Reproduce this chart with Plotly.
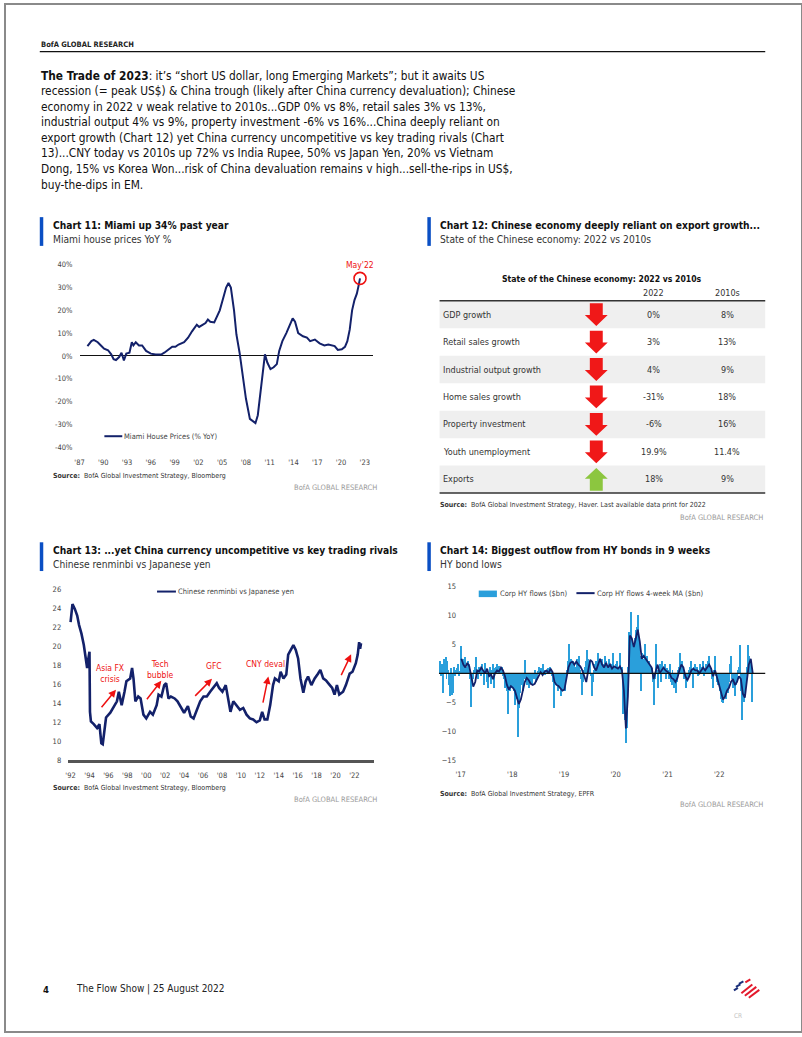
import plotly.graph_objects as go
import pandas as pd

W, H = 802, 1037
FONT = "DejaVu Sans Condensed, Liberation Sans Narrow, Arial Narrow, sans-serif"
NAVY = "#13216a"
BLUEBAR = "#0a4fc4"
RED = "#ee1111"

# ---------------- DATA ----------------
# Chart 11: Miami house prices YoY %
miami_x = [1988.0, 1988.5, 1988.8, 1989.3, 1989.7, 1990.1, 1990.6, 1991.0, 1991.3, 1991.6,
           1992.0, 1992.3, 1992.6, 1992.9, 1993.3, 1993.6, 1993.8, 1994.1, 1994.5, 1994.9,
           1995.4, 1996.0, 1996.6, 1997.3, 1997.7, 1998.2, 1998.7, 1999.1, 1999.5, 2000.2,
           2000.7, 2001.2, 2001.8, 2002.1, 2002.5, 2002.9, 2003.2, 2003.5, 2004.0, 2004.3,
           2004.7, 2005.1, 2005.5, 2005.8, 2006.1, 2006.5, 2006.8, 2007.2, 2007.6, 2008.0,
           2008.5, 2008.9, 2009.2, 2009.5, 2009.8, 2010.1, 2010.4, 2010.7, 2011.1, 2011.5,
           2011.9, 2012.2, 2012.6, 2013.1, 2013.5, 2013.9, 2014.2, 2014.6, 2015.2, 2015.7,
           2016.1, 2016.7, 2017.3, 2017.9, 2018.4, 2018.8, 2019.2, 2019.6, 2020.1, 2020.5,
           2020.8, 2021.1, 2021.4, 2021.7, 2022.0, 2022.2, 2022.4]
miami_y = [4.3, 6.5, 7.0, 6.0, 4.6, 3.2, 2.5, 0.7, -1.4, -1.8,
           -0.5, 1.4, -2.0, 1.0, 1.4, 6.0, 4.6, 6.0, 4.6, 4.6,
           2.2, 1.0, 0.6, 0.6, 1.4, 2.6, 4.0, 4.0, 5.0, 6.0,
           8.0, 10.8, 13.7, 12.7, 13.7, 14.4, 16.0, 15.0, 14.7, 17.3,
           20.0, 25.0, 30.0, 32.0, 30.0, 20.0, 9.4, 1.4, -8.0, -18.7,
           -27.6, -28.8, -29.5, -26.0, -17.3, -7.2, 0.7, -2.9, -5.8, -5.0,
           -3.6, 2.2, 6.5, 10.0, 13.7, 16.5, 15.0, 10.0, 8.6, 8.0,
           6.5, 7.2, 5.5, 4.6, 5.0, 4.6, 4.3, 2.6, 2.9, 4.0,
           6.5, 11.5, 20.0, 24.5, 27.3, 30.5, 34.0]
miami_years = list(range(1987, 2024, 3))
miami_yticks = list(range(-40, 41, 10))

# Chart 12: table
t12_rows = ["GDP growth", "Retail sales growth", "Industrial output growth", "Home sales growth",
            "Property investment", "Youth unemployment", "Exports"]
t12_2022 = ["0%", "3%", "4%", "-31%", "-6%", "19.9%", "18%"]
t12_2010s = ["8%", "13%", "9%", "18%", "16%", "11.4%", "9%"]
t12_dir = ["down", "down", "down", "down", "down", "down", "up"]

# Chart 13: CNY vs JPY
cny_x = [1992.0, 1992.2, 1992.45, 1992.7, 1992.9, 1993.15, 1993.4, 1993.6, 1993.75, 1993.85,
         1994.0, 1994.05, 1994.15, 1994.45, 1994.8, 1995.05, 1995.25, 1995.4, 1995.6, 1995.75,
         1996.2, 1996.5, 1996.9, 1997.1, 1997.4, 1997.7, 1997.9, 1998.3, 1998.5, 1998.65,
         1998.85, 1999.15, 1999.4, 1999.7, 2000.0, 2000.4, 2000.7, 2001.1, 2001.3, 2001.6,
         2001.9, 2002.1, 2002.35, 2002.6, 2003.0, 2003.3, 2003.7, 2004.0, 2004.4, 2004.7,
         2005.0, 2005.35, 2005.7, 2006.05, 2006.4, 2006.75, 2007.1, 2007.45, 2007.7, 2008.05,
         2008.4, 2008.65, 2008.9, 2009.2, 2009.55, 2009.9, 2010.25, 2010.6, 2010.95, 2011.3,
         2011.65, 2012.0, 2012.25, 2012.5, 2012.8, 2013.1, 2013.4, 2013.6, 2014.0, 2014.2,
         2014.5, 2014.8, 2015.0, 2015.25, 2015.55, 2015.8, 2016.05, 2016.3, 2016.6, 2016.85,
         2017.1, 2017.45, 2017.8, 2018.15, 2018.4, 2018.7, 2019.0, 2019.4, 2019.65, 2019.9,
         2020.15, 2020.4, 2020.8, 2021.1, 2021.5, 2021.8, 2022.15, 2022.35, 2022.5, 2022.6,
         2022.7]
cny_y = [22.5, 24.4, 23.9, 23.2, 22.2, 21.3, 20.1, 18.7, 17.7, 18.5,
         19.4, 13.1, 12.1, 11.8, 11.4, 11.8, 9.8, 9.7, 11.1, 12.5,
         13.0, 13.5, 14.2, 15.2, 13.8, 15.2, 16.3, 16.6, 17.7, 16.6,
         14.2, 14.7, 14.5, 12.8, 12.4, 13.1, 12.8, 13.8, 14.9, 14.7,
         15.9, 16.1, 14.5, 14.7, 14.5, 14.2, 13.5, 13.0, 13.7, 12.6,
         12.4, 13.3, 14.2, 14.7, 14.7, 15.2, 15.6, 16.1, 15.6, 15.2,
         15.9, 14.5, 13.1, 14.2, 13.7, 13.3, 13.5, 12.8, 12.4, 12.3,
         12.0, 12.2, 13.1, 12.3, 12.3, 13.8, 15.9, 16.6, 16.3, 17.3,
         16.6, 17.0, 19.1, 19.6, 20.1, 19.6, 18.7, 16.6, 15.1, 16.3,
         16.8, 15.9, 16.6, 17.1, 17.5, 16.6, 16.4, 15.9, 15.6, 14.9,
         15.9, 14.9, 15.2, 15.9, 17.1, 17.3, 18.2, 19.1, 20.4, 19.7,
         20.3]
cny_years = list(range(1992, 2023, 2))
cny_yticks = list(range(8, 27, 2))
cny_events = ["Asia FX<br>crisis", "Tech<br>bubble", "GFC", "CNY deval"]

# Chart 14: HY flows, weekly ($bn), from early Aug 2016
hy_2016 = [2.0, -0.5, 1.5, -3.5, 2.5, 1.0, 2.8, -1.0, 2.0, 0.5, -2.0, -4.0, 0.8, -3.8, -3.5, 1.0,
           -0.5, 0.5, 0.8, 1.5, -0.5, 0.3]
hy_2017 = [4.7, 2.0, 2.5, 1.5, 2.8, 1.0, 0.5, 2.0, 1.5, -1.0, -5.8, -2.0, -1.0, 0.5, 1.0, 2.8,
           0.5, -1.0, 1.0, 0.8, -0.5, 1.5, 0.5, -2.0, 1.8, 0.5, -1.5, -2.5, -0.5, 1.0, -1.8, 0.5,
           1.5, -2.5, 0.8, 1.0, 1.5, 0.5, 1.2, 0.8, 0.5, 1.0, -0.5, -1.0, -2.5, -1.5, -3.0, -7.0,
           -2.0, -3.0, -1.5, -2.5]
hy_2018 = [-2.5, -3.0, -5.5, -2.0, -4.5, -11.0, -6.0, -3.5, -2.0, -1.5, -3.0, -1.0, 2.2, -1.5, -2.0, -0.5,
           -2.5, -1.0, -1.5, -2.0, -0.5, -1.0, 0.5, -1.5, -0.8, 0.3, 1.0, 0.5, 0.8, 0.3, 1.5, 0.5,
           -0.3, 0.5, 0.2, 0.8, 0.3, 1.0, 0.5, -0.5, -1.5, -6.0, -1.0, -2.0, -1.5, -3.0, -2.5, -2.0,
           -3.5, -4.0, -2.5, -3.0]
hy_2019 = [-2.5, -3.0, -1.0, 0.5, 2.0, 5.0, 1.5, 2.5, 1.0, 2.0, 1.5, 0.5, 1.0, 2.5, 1.8, 3.0,
           0.5, -1.0, -3.8, -1.5, 0.5, 1.0, 2.0, 4.0, 2.5, 1.0, 2.0, -0.5, -4.0, -1.5, 0.5, 1.5,
           2.0, 1.0, 3.5, 1.5, 2.0, 0.5, 2.5, 1.0, 1.5, 3.0, 2.0, 0.5, 1.0, 2.5, 1.0, 0.5,
           1.5, 3.5, 0.5, 1.0]
hy_2020 = [1.5, 2.0, 0.5, 1.0, 3.5, 0.8, 1.0, -7.0, -4.0, -8.0, -12.0, -9.5, 1.0, 7.0, 6.5, 10.5,
           5.0, 4.5, 4.0, 6.0, 7.5, 8.0, 10.0, 6.0, 3.0, -3.0, 3.5, 2.5, 2.0, 5.0, 2.0, 3.0,
           1.5, 2.0, 1.0, 0.5, 0.8, -1.5, -5.5, -1.0, 5.0, 0.5, -2.5, 1.0, 1.5, -1.5, 2.0, 0.5,
           1.0, 1.5, -1.0, 0.8]
hy_2021 = [0.5, -1.0, 1.5, -1.5, -2.0, 0.5, -1.5, -2.5, -1.0, -3.5, -1.5, 0.5, 1.0, 3.5, 1.5, 2.0,
           0.5, -1.0, -0.5, -2.5, -1.5, -1.0, 0.5, 1.0, 2.0, 0.5, -2.5, 1.0, 1.5, 0.5, 1.0, -0.5,
           0.5, 1.5, 0.5, 1.0, 2.0, -0.5, 0.5, 1.5, 0.5, 2.0, 3.0, 1.0, 0.5, -1.0, -2.5, 0.5,
           3.0, -0.5, -1.5, -2.0]
hy_2022 = [-1.5, -3.0, -4.5, -5.0, -5.2, -4.0, -3.0, -4.5, -2.0, -3.5, -1.5, 1.5, 3.0, -1.0, -2.5, -1.5,
           -4.0, -2.0, -1.0, 0.5, 1.0, 4.8, -3.0, -8.0, -4.0, -5.0, -3.0, -1.5, 1.0, 4.8, 3.0, 2.5,
           1.0, -5.0]
hy_flows = hy_2016 + hy_2017 + hy_2018 + hy_2019 + hy_2020 + hy_2021 + hy_2022
hy_dates = pd.date_range("2016-08-05", periods=len(hy_flows), freq="7D")

# 4-week MA, read every two weeks from Jan 2017
ma_2017 = [2.5, 1.5, 1.0, 1.8, 1.2, -0.5, -2.3, -1.5, 0.5, 0.3, 1.0, 0.5, 0.0, 0.8, -0.5, -0.2,
           -1.0, 0.0, 0.5, 0.3, 1.0, 0.5, -0.5, -2.0, -2.8, -2.2]
ma_2018 = [-2.5, -3.0, -4.0, -5.3, -4.5, -3.0, -1.5, -0.8, -1.2, -1.8, -2.0, -1.8, -1.2, -0.5, 0.2, -0.3,
           0.3, 0.5, 0.0, 0.8, 0.2, -1.5, -2.0, -2.2, -2.6, -3.0]
ma_2019 = [-2.8, -1.0, 1.0, 1.8, 2.0, 1.5, 2.0, 1.5, 1.2, 0.5, -0.5, -1.5, 0.5, 2.3, 2.0, 1.0,
           0.5, 1.5, 2.5, 1.5, 1.0, 1.8, 1.0, 1.5, 0.8, 1.2]
ma_2020 = [1.0, 0.8, 1.2, 0.5, -3.0, -9.5, -4.0, 6.5, 6.0, 4.5, 6.0, 7.5, 5.5, 2.5, 3.0, 2.5,
           2.0, 1.5, 1.0, -1.0, 0.5, 1.5, 0.0, 0.5, 1.0, 0.5]
ma_2021 = [0.3, 0.0, -0.8, -1.0, -1.5, -0.8, 0.5, 1.5, 1.0, -0.5, -1.2, -0.5, 0.5, 0.8, 0.5, 0.5,
           0.0, 0.5, 1.0, 0.5, 1.0, 1.5, 0.8, -0.5, 0.5, -0.8]
ma_2022 = [-2.0, -3.5, -4.5, -4.0, -3.0, -2.5, -1.5, -1.0, -2.0, -1.5, -0.5, -1.0, -3.5, -4.2, -1.5, 1.5,
           2.5, 0.0]
hy_ma = ma_2017 + ma_2018 + ma_2019 + ma_2020 + ma_2021 + ma_2022
hy_ma_dates = pd.date_range("2017-01-06", periods=len(hy_ma), freq="14D")
hy_years = list(range(2017, 2023))
hy_yticks = [-15, -10, -5, 5, 10, 15]

paragraph = [
    "<b>The Trade of 2023</b>: it\u2019s \u201cshort US dollar, long Emerging Markets\u201d; but it awaits US",
    "recession (= peak US$) & China trough (likely after China currency devaluation); Chinese",
    "economy in 2022 v weak relative to 2010s...GDP 0% vs 8%, retail sales 3% vs 13%,",
    "industrial output 4% vs 9%, property investment -6% vs 16%...China deeply reliant on",
    "export growth (Chart 12) yet China currency uncompetitive vs key trading rivals (Chart",
    "13)...CNY today vs 2010s up 72% vs India Rupee, 50% vs Japan Yen, 20% vs Vietnam",
    "Dong, 15% vs Korea Won...risk of China devaluation remains v high...sell-the-rips in US$,",
    "buy-the-dips in EM.",
]


# ---------------- HELPERS ----------------
def px(x):
    return x / W


def py(y):
    return 1 - y / H


annotations = []
shapes = []


def text(x, y, s, size, color="#222", xanchor="left", yanchor="middle", bold=False):
    if bold:
        s = "<b>" + s + "</b>"
    annotations.append(dict(x=px(x), y=py(y), xref="paper", yref="paper", text=s, showarrow=False,
                            xanchor=xanchor, yanchor=yanchor, borderpad=0,
                            font=dict(size=size, color=color, family=FONT)))


def line(x0, y0, x1, y1, color, width):
    shapes.append(dict(type="line", xref="paper", yref="paper", x0=px(x0), y0=py(y0), x1=px(x1), y1=py(y1),
                       line=dict(color=color, width=width)))


def rect(x0, y0, x1, y1, color):
    shapes.append(dict(type="rect", xref="paper", yref="paper", x0=px(x0), y0=py(y0), x1=px(x1), y1=py(y1),
                       fillcolor=color, line=dict(width=0), layer="below"))


def chart_header(x, title, subtitle, ytop):
    rect(x - 12, ytop, x - 8.5, ytop + 29, BLUEBAR)
    text(x, ytop + 8, title, 10.2, "#111", bold=True)
    text(x, ytop + 22.5, subtitle, 10.2, "#333")


def source(x, y, s):
    text(x, y, "<b>Source:</b>  " + s, 7, "#333")


def brand(xr, y):
    text(xr, y, "BofA GLOBAL RESEARCH", 7.5, "#9a9a9a", xanchor="right")


fig = go.Figure()

# ---------------- PAGE ----------------
text(35, 41, "BofA GLOBAL RESEARCH", 7.5, "#222", bold=True)
line(35, 48, 765, 48, "#111", 1.2)
for i, s in enumerate(paragraph):
    text(35, 72.3 + i * 15.7, s, 11.8, "#111")

# ---------------- CHART 11 ----------------
chart_header(47, "Chart 11: Miami up 34% past year", "Miami house prices YoY %", 215)
fig.add_trace(go.Scatter(x=miami_x, y=miami_y, mode="lines", line=dict(color=NAVY, width=2),
                         xaxis="x", yaxis="y", showlegend=False, hoverinfo="skip"))
fig.add_trace(go.Scatter(x=[miami_x[-1]], y=[miami_y[-1]], mode="markers",
                         marker=dict(symbol="circle-open", size=12, color=RED, line=dict(width=1.6, color=RED)),
                         xaxis="x", yaxis="y", showlegend=False, hoverinfo="skip"))
annotations.append(dict(x=miami_x[-1], y=miami_y[-1], xref="x", yref="y", text="May'22", showarrow=False,
                        yshift=13, font=dict(size=8.5, color=RED, family=FONT)))
line(100, 436, 118, 436, NAVY, 2)
text(119, 436, "Miami House Prices (% YoY)", 7.5, "#444")
source(47, 476, "BofA Global Investment Strategy, Bloomberg")
brand(375, 487.5)

# ---------------- CHART 12 (table) ----------------
chart_header(437, "Chart 12: Chinese economy deeply reliant on export growth...",
             "State of the Chinese economy: 2022 vs 2010s", 215)
text(601, 277, "State of the Chinese economy: 2022 vs 2010s", 8.6, "#111", xanchor="center", bold=True)
text(653, 292, "2022", 9, "#333", xanchor="center")
text(727, 292, "2010s", 9, "#333", xanchor="center")
ROW0, ROWH = 313.3, 27.7
for i, lab in enumerate(t12_rows):
    cy = ROW0 + i * ROWH
    if i % 2 == 0:
        rect(437.3, cy - ROWH / 2, 765, cy + ROWH / 2, "#efefef")
    text(440, cy, lab, 9, "#333")
    text(653, cy, t12_2022[i], 9, "#333", xanchor="center")
    text(727, cy, t12_2010s[i], 9, "#333", xanchor="center")
    # block arrow
    cx = 595
    hs, hh, hw, sw = 11.5, 11.0, 11.5, 6.5
    if t12_dir[i] == "down":
        yb = cy + hs - hh
        pts = [(cx - sw, cy - hs), (cx + sw, cy - hs), (cx + sw, yb), (cx + hw, yb), (cx, cy + hs),
               (cx - hw, yb), (cx - sw, yb)]
        col = "#f01818"
    else:
        yb = cy - hs + hh
        pts = [(cx - sw, cy + hs), (cx + sw, cy + hs), (cx + sw, yb), (cx + hw, yb), (cx, cy - hs),
               (cx - hw, yb), (cx - sw, yb)]
        col = "#8cc63f"
    path = "M " + " L ".join(f"{px(a):.5f},{py(b):.5f}" for a, b in pts) + " Z"
    shapes.append(dict(type="path", xref="paper", yref="paper", path=path, fillcolor=col, line=dict(width=0)))
line(437.3, ROW0 - ROWH / 2, 765, ROW0 - ROWH / 2, "#333", 1.5)
line(437.3, ROW0 + 6.5 * ROWH, 765, ROW0 + 6.5 * ROWH, "#333", 1.5)
source(437, 505, "BofA Global Investment Strategy, Haver. Last available data print for 2022")
brand(764, 517.5)

# ---------------- CHART 13 ----------------
chart_header(47, "Chart 13: ...yet China currency uncompetitive vs key trading rivals",
             "Chinese renminbi vs Japanese yen", 543)
fig.add_trace(go.Scatter(x=cny_x, y=cny_y, mode="lines", line=dict(color=NAVY, width=2.6),
                         xaxis="x2", yaxis="y2", showlegend=False, hoverinfo="skip"))
line(153, 592.7, 172, 592.7, NAVY, 2)
text(173, 592.7, "Chinese renminbi vs Japanese yen", 7.5, "#444")
ev_text_pos = [(106, 675.5), (156, 671), (210, 668), (262, 666)]
for s, (x, y) in zip(cny_events, ev_text_pos):
    text(x, y, s, 8.5, RED, xanchor="center")
ev_arrows = [((96, 710.7), (111.7, 691.7)), ((141.7, 702.7), (157.3, 682.7)), ((190, 699.3), (208.3, 680.7)),
             ((259.3, 706), (265, 678.3)), ((337.7, 678.3), (348.3, 656))]
for (tx, ty), (hx, hy) in ev_arrows:
    annotations.append(dict(x=px(hx), y=py(hy), xref="paper", yref="paper", ax=tx - hx, ay=ty - hy,
                            text="", showarrow=True, arrowhead=2, arrowsize=1, arrowwidth=1.5, arrowcolor=RED))
source(47, 790.5, "BofA Global Investment Strategy, Bloomberg")
brand(375, 802.5)

# ---------------- CHART 14 ----------------
chart_header(437, "Chart 14: Biggest outflow from HY bonds in 9 weeks", "HY bond lows", 543)
fig.add_trace(go.Bar(x=hy_dates, y=hy_flows, marker=dict(color="#2a9fdb", line=dict(width=0)),
                     xaxis="x3", yaxis="y3", showlegend=False, hoverinfo="skip"))
fig.add_trace(go.Scatter(x=hy_ma_dates, y=hy_ma, mode="lines", line=dict(color=NAVY, width=1.8),
                         xaxis="x3", yaxis="y3", showlegend=False, hoverinfo="skip"))
shapes.append(dict(type="line", xref="x3 domain", yref="y3", x0=0, x1=1, y0=0, y1=0,
                   line=dict(color="#111", width=1.2), layer="above"))
rect(476.7, 591.7, 495, 598.3, "#2a9fdb")
text(497, 594.5, "Corp HY flows ($bn)", 7.5, "#444")
line(575, 594.3, 593.3, 594.3, NAVY, 2)
text(594.5, 594.5, "Corp HY flows 4-week MA ($bn)", 7.5, "#444")
source(437, 797, "BofA Global Investment Strategy, EPFR")
brand(764, 808)

# ---------------- FOOTER ----------------
text(37, 994, "4", 9.5, "#111", bold=True)
text(70, 994, "The Flow Show | 25 August 2022", 10, "#222")
for (a, b, c, d) in [(733.5, 995, 737.5, 992.5), (735.5, 991.5, 740, 989), (738.5, 988.5, 743, 986)]:
    line(a, b, c, d, "#1b2f7a", 2)
for (a, b, c, d) in [(741, 998, 752, 989), (744.5, 1000.5, 756, 991.5), (748.5, 1002.5, 759, 994.5),
                     (745, 987, 750, 984)]:
    line(a, b, c, d, "#e3192c", 2)
text(738, 1020.5, "CR", 6.5, "#c4c4c4", xanchor="center")

# page frame
shapes.append(dict(type="rect", xref="paper", yref="paper", x0=0, y0=0, x1=1, y1=1,
                   line=dict(color="#8a8a8a", width=2), fillcolor="rgba(0,0,0,0)"))

TICKFONT = dict(size=7.5, color="#444", family=FONT)
common = dict(showgrid=False, showline=False, ticks="", tickfont=TICKFONT, fixedrange=True)

fig.update_layout(
    width=W, height=H, autosize=False,
    margin=dict(l=0, r=0, t=0, b=0),
    paper_bgcolor="white", plot_bgcolor="white",
    showlegend=False, bargap=0,
    font=dict(family=FONT),
    xaxis=dict(domain=[px(75), px(370)], range=[1987, 2024], anchor="y",
               tickvals=miami_years, ticktext=[f"'{y % 100:02d}" for y in miami_years],
               zeroline=False, ticklabelstandoff=9, **common),
    yaxis=dict(domain=[py(447), py(263)], range=[-40, 40], anchor="x",
               tickvals=miami_yticks, ticktext=[f"{v}%" for v in miami_yticks],
               zeroline=True, zerolinecolor="#111", zerolinewidth=1, ticklabelstandoff=6, **common),
    xaxis2=dict(domain=[px(63.6), px(371.6)], range=[1991.75, 2024.1], anchor="y2",
                tickvals=cny_years, ticktext=[f"'{y % 100:02d}" for y in cny_years],
                zeroline=False, ticklabelstandoff=6,
                **{**common, "showline": True}, linecolor="#555", linewidth=3),
    yaxis2=dict(domain=[py(763), py(590)], range=[8, 26], anchor="x2",
                tickvals=cny_yticks, zeroline=False, ticklabelstandoff=6, **common),
    xaxis3=dict(domain=[px(436.7), px(765)], type="date", range=["2016-08-01", "2022-11-22"], anchor="y3",
                tickvals=[f"{y}-01-01" for y in hy_years], ticktext=[f"'{y % 100:02d}" for y in hy_years],
                zeroline=False, ticklabelstandoff=8, **common),
    yaxis3=dict(domain=[py(763), py(587.3)], range=[-15, 15], anchor="x3",
                tickvals=hy_yticks, zeroline=False, ticklabelstandoff=-18, **common),
    annotations=annotations,
    shapes=shapes,
)

fig.write_html("out.html", post_script="document.body.style.margin='0';document.body.style.padding='0';")
